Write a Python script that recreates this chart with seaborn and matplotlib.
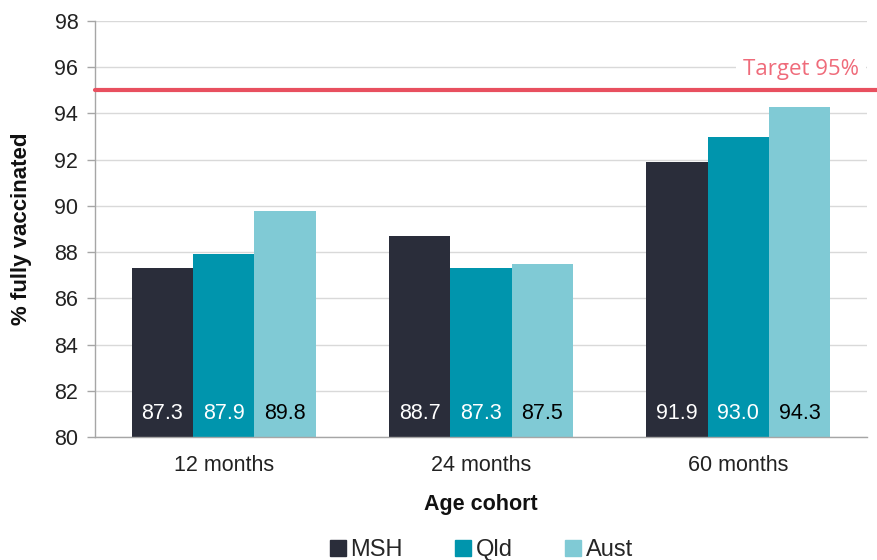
import matplotlib
matplotlib.use("Agg")
import matplotlib.pyplot as plt
from matplotlib.lines import Line2D
import seaborn as sns
import pandas as pd

# Immunisation coverage by age cohort
cohorts = ["12 months", "24 months", "60 months"]
regions = ["MSH", "Qld", "Aust"]
msh = [87.3, 88.7, 91.9]
qld = [87.9, 87.3, 93.0]
aust = [89.8, 87.5, 94.3]
target = 95.0
y_ticks = [80, 82, 84, 86, 88, 90, 92, 94, 96, 98]

colors = {"MSH": "#2a2d3a", "Qld": "#0095ad", "Aust": "#80cad5"}
label_colors = {"MSH": "white", "Qld": "white", "Aust": "black"}

df = pd.DataFrame({
    "cohort": cohorts * 3,
    "region": ["MSH"] * 3 + ["Qld"] * 3 + ["Aust"] * 3,
    "value": msh + qld + aust,
})

sns.set_theme(style="white")
plt.rcParams["font.family"] = ["Liberation Sans", "DejaVu Sans"]

FS = 15.5

fig = plt.figure(figsize=(8.77, 5.60), dpi=100)
ax = fig.add_axes([0.1083, 0.2196, 0.8803, 0.7429])

sns.barplot(data=df, x="cohort", y="value", hue="region", order=cohorts,
            hue_order=regions, palette=colors, width=0.715, gap=0,
            saturation=1, legend=False, ax=ax, zorder=2, linewidth=0)

ax.set_ylim(80, 98)
ax.set_xlim(-0.5, 2.5)
ax.set_yticks(y_ticks)
ax.set_yticklabels([str(t) for t in y_ticks], fontsize=FS, color="#222222")
ax.yaxis.grid(True, color="#d9d9d9", linewidth=1, zorder=0)
ax.set_axisbelow(True)

# category labels without tick marks, small ticks at category boundaries
ax.set_xticks(range(len(cohorts)))
ax.set_xticklabels(cohorts, fontsize=FS, color="#222222")
ax.tick_params(axis="x", which="major", length=0, pad=13)
ax.set_xticks([0.5, 1.5, 2.5], minor=True)
ax.tick_params(axis="x", which="minor", length=5, color="#a6a6a6", width=1)
ax.tick_params(axis="y", which="major", length=6, color="#a6a6a6", width=1,
               left=True, pad=6)

for side in ["top", "right"]:
    ax.spines[side].set_visible(False)
for side in ["left", "bottom"]:
    ax.spines[side].set_color("#a6a6a6")
    ax.spines[side].set_linewidth(1)

ax.set_ylabel("% fully vaccinated", fontsize=FS + 0.5, fontweight="bold",
              color="#111111", labelpad=16)
ax.set_xlabel("Age cohort", fontsize=FS, fontweight="bold",
              color="#111111", labelpad=13)

# value labels near the base of each bar
for region, container in zip(regions, ax.containers):
    for bar in container:
        h = bar.get_height()
        ax.text(bar.get_x() + bar.get_width() / 2, 81.0, f"{h:.1f}",
                ha="center", va="center", fontsize=FS,
                color=label_colors[region], zorder=3)

# target line
ax.axhline(target, color="#e8505f", linewidth=3, zorder=4,
           xmax=1.02, clip_on=False)
ax.text(2.47, target + 0.88, "Target 95%", ha="right", va="center",
        fontsize=FS + 0.5, color="#ef6b7a", family=["Open Sans", "DejaVu Sans"],
        bbox=dict(facecolor="white", edgecolor="none", pad=5), zorder=4)

handles = [Line2D([0], [0], marker="s", linestyle="none", markersize=11,
                  markerfacecolor=colors[r], markeredgecolor=colors[r])
           for r in regions]
fig.legend(handles, regions, loc="lower center", bbox_to_anchor=(0.547, -0.04),
           ncol=3, frameon=False, fontsize=FS + 1.5, handletextpad=0.05,
           columnspacing=2.05, handlelength=1.0)

fig.savefig("out.png", dpi=100)
